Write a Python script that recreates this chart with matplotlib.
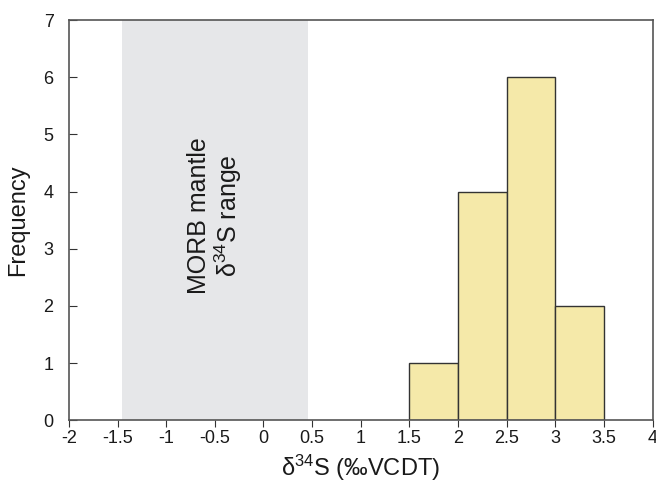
import matplotlib
matplotlib.use("Agg")
import matplotlib.pyplot as plt

plt.rcParams['font.family'] = ['Liberation Sans', 'DejaVu Sans']
plt.rcParams['mathtext.fontset'] = 'custom'
plt.rcParams['mathtext.rm'] = 'Liberation Sans'
plt.rcParams['mathtext.it'] = 'Liberation Sans'
plt.rcParams['mathtext.default'] = 'regular'

bin_edges = [1.5, 2.0, 2.5, 3.0, 3.5]
counts = [1, 4, 6, 2]
morb_range = (-1.45, 0.46)
xticks = [-2, -1.5, -1, -0.5, 0, 0.5, 1, 1.5, 2, 2.5, 3, 3.5, 4]
xtick_labels = ['-2', '-1.5', '-1', '-0.5', '0', '0.5', '1', '1.5', '2', '2.5', '3', '3.5', '4']
yticks = [0, 1, 2, 3, 4, 5, 6, 7]

fig = plt.figure(figsize=(6.56, 4.88), dpi=100)
ax = fig.add_axes([0.105, 0.139, 0.89, 0.82])

ax.axvspan(morb_range[0], morb_range[1], color='#e6e7e9', lw=0, zorder=0)
lefts = bin_edges[:-1]
widths = [bin_edges[i+1] - bin_edges[i] for i in range(len(counts))]
ax.bar(lefts, counts, width=widths, align='edge', color='#f5e9a9',
       edgecolor='#333333', linewidth=1.0, zorder=2)

ax.text((morb_range[0] + morb_range[1]) / 2, 3.57, 'MORB mantle\nδ$^{34}$S range',
        rotation=90, ha='center', va='center', fontsize=18, linespacing=1.05,
        color='#1a1a1a')

ax.set_xlim(-2, 4)
ax.set_ylim(0, 7)
ax.set_xticks(xticks)
ax.set_xticklabels(xtick_labels)
ax.set_yticks(yticks)
ax.tick_params(axis='x', direction='out', length=5, labelsize=13, colors='#333333',
               labelcolor='#1a1a1a', pad=2)
ax.tick_params(axis='y', direction='in', length=6, labelsize=13, colors='#333333',
               labelcolor='#1a1a1a', pad=11)
for s in ax.spines.values():
    s.set_color('#555555')
    s.set_linewidth(1.2)

ax.set_xlabel('δ$^{34}$S (‰VCDT)', fontsize=17, color='#1a1a1a', labelpad=4)
ax.set_ylabel('Frequency', fontsize=17, color='#1a1a1a', labelpad=10)

fig.savefig('out.png', dpi=100)
